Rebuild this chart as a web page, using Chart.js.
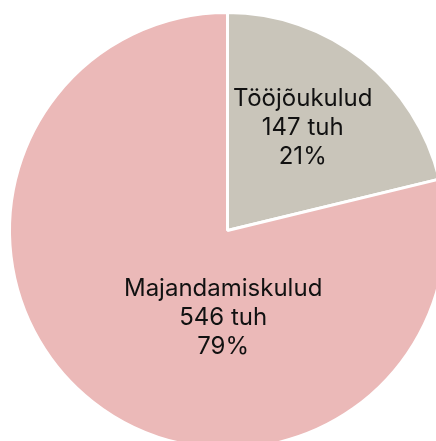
<!DOCTYPE html>
<html lang="et">
<head>
    <meta charset="UTF-8" />
    <title>Kulud</title>
    <style>
        html, body { margin: 0; padding: 0; overflow: hidden; background: #fff; }
        #wrap { width: 455px; height: 461px; }
    </style>
</head>
<body>
<div id="wrap"><canvas id="kuludChart" width="455" height="461"></canvas></div>

<script src="https://cdn.jsdelivr.net/npm/chart.js"></script>
<script>
    const categories = ['Tööjõukulud', 'Majandamiskulud'];
    const values = [147, 546];          // tuh
    const percents = ['21%', '79%'];
    const colors = ['#C9C5BA', '#EBB9B8'];
    // label offset from pie centre, as fraction of the radius
    const labelOffsetX = [0.345, -0.02];
    const labelOffsetY = [-0.47, 0.40];

    const sliceLabels = {
        id: 'sliceLabels',
        afterDatasetsDraw(chart) {
            const ctx = chart.ctx;
            const meta = chart.getDatasetMeta(0);
            ctx.save();
            ctx.font = '24px Inter, "Noto Sans", sans-serif';
            ctx.fillStyle = '#111111';
            ctx.textAlign = 'center';
            ctx.textBaseline = 'middle';
            meta.data.forEach((arc, i) => {
                const r = arc.outerRadius;
                const x = arc.x + labelOffsetX[i] * r;
                const y = arc.y + labelOffsetY[i] * r;
                const lines = [categories[i], values[i] + ' tuh', percents[i]];
                lines.forEach((t, j) => ctx.fillText(t, x, y + (j - 1) * 29));
            });
            ctx.restore();
        }
    };

    new Chart(document.getElementById('kuludChart'), {
        type: 'pie',
        data: {
            labels: categories,
            datasets: [{
                data: values,
                backgroundColor: colors,
                borderColor: '#ffffff',
                borderWidth: 3
            }]
        },
        options: {
            responsive: false,
            animation: false,
            layout: { padding: { left: 8, right: 8, top: 11, bottom: 11 } },
            plugins: {
                legend: { display: false },
                tooltip: { enabled: false }
            }
        },
        plugins: [sliceLabels]
    });
</script>
</body>
</html>
